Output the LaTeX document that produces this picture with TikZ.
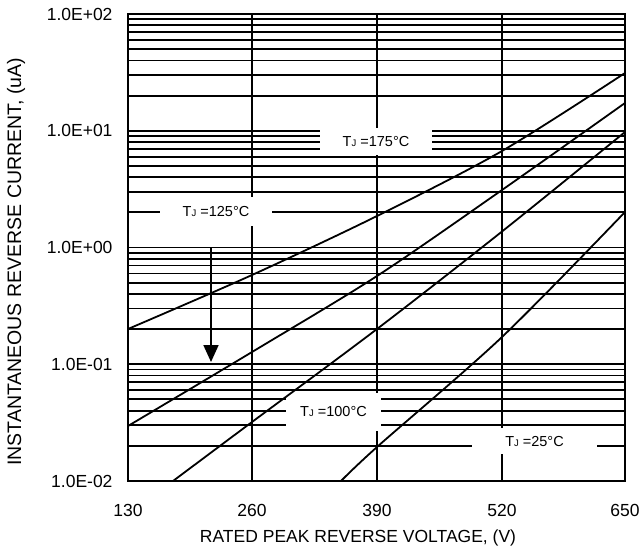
\documentclass[tikz,border=0pt]{standalone}
\usepackage{fontspec}
\setmainfont{Liberation Sans}
\usepackage{tikz}
\usetikzlibrary{arrows.meta}

\newcommand{\tjunc}{T{\fontsize{9.5}{9.5}\selectfont J}}

\tikzset{
  grid line/.style={line width=1.8pt},
  curve/.style={line width=1.8pt, line join=round},
  tj label/.style={fill=white, inner sep=0pt, font=\fontsize{14.5}{16}\selectfont},
  tick label/.style={font=\fontsize{17.5}{20}\selectfont},
}

\begin{document}
\begin{tikzpicture}[x=1pt,y=-1pt]
  \useasboundingbox (0,0) rectangle (642,552);

  % decade 1E-02 .. 1E-01
  \draw[grid line] (128,445.85) -- (625,445.85);
  \draw[grid line] (128,425.30) -- (625,425.30);
  \draw[grid line] (128,410.71) -- (625,410.71);
  \draw[grid line] (128,399.39) -- (625,399.39);
  \draw[grid line] (128,390.15) -- (625,390.15);
  \draw[grid line] (128,382.33) -- (625,382.33);
  \draw[grid line] (128,375.56) -- (625,375.56);
  \draw[grid line] (128,369.59) -- (625,369.59);
  \draw[grid line] (128,364.25) -- (625,364.25);
  % decade 1E-01 .. 1E+00
  \draw[grid line] (128,329.10) -- (625,329.10);
  \draw[grid line] (128,308.55) -- (625,308.55);
  \draw[grid line] (128,293.96) -- (625,293.96);
  \draw[grid line] (128,282.64) -- (625,282.64);
  \draw[grid line] (128,273.40) -- (625,273.40);
  \draw[grid line] (128,265.58) -- (625,265.58);
  \draw[grid line] (128,258.81) -- (625,258.81);
  \draw[grid line] (128,252.84) -- (625,252.84);
  \draw[grid line] (128,247.50) -- (625,247.50);
  % decade 1E+00 .. 1E+01
  \draw[grid line] (128,212.35) -- (625,212.35);
  \draw[grid line] (128,191.80) -- (625,191.80);
  \draw[grid line] (128,177.21) -- (625,177.21);
  \draw[grid line] (128,165.89) -- (625,165.89);
  \draw[grid line] (128,156.65) -- (625,156.65);
  \draw[grid line] (128,148.83) -- (625,148.83);
  \draw[grid line] (128,142.06) -- (625,142.06);
  \draw[grid line] (128,136.09) -- (625,136.09);
  \draw[grid line] (128,130.75) -- (625,130.75);
  % decade 1E+01 .. 1E+02
  \draw[grid line] (128,95.60) -- (625,95.60);
  \draw[grid line] (128,75.05) -- (625,75.05);
  \draw[grid line] (128,60.46) -- (625,60.46);
  \draw[grid line] (128,49.14) -- (625,49.14);
  \draw[grid line] (128,39.90) -- (625,39.90);
  \draw[grid line] (128,32.08) -- (625,32.08);
  \draw[grid line] (128,25.31) -- (625,25.31);
  \draw[grid line] (128,19.34) -- (625,19.34);

  \draw[grid line] (252,14) -- (252,481);
  \draw[grid line] (377,14) -- (377,481);
  \draw[grid line] (502,14) -- (502,481);
  \draw[grid line] (128,14) rectangle (625,481);

  % temperature labels
  \node[tj label, minimum width=112, minimum height=27] (lbl175) at (376,141.5) {\tjunc\ =175\textdegree C};
  \node[tj label, minimum width=112, minimum height=29] (lbl125) at (216,211.5) {\tjunc\ =125\textdegree C};
  \node[tj label, minimum width=95, minimum height=38] (lbl100) at (333.5,412) {\tjunc\ =100\textdegree C};
  \node[tj label, minimum width=125, minimum height=26] (lbl25) at (534.5,441) {\tjunc\ =25\textdegree C};

  % curves
  \draw[curve] plot[smooth] coordinates {(128,329) (252,275) (377,216) (502,151) (625,73)};
  \draw[curve] plot[smooth] coordinates {(128,426) (252,352) (377,276) (502,190) (625,103)};
  \draw[curve] plot[smooth] coordinates {(173,481) (252,422) (377,329) (502,231.5) (625,132)};
  \draw[curve] plot[smooth] coordinates {(341,481) (377,447) (502,337) (625,212)};

  \draw[line width=1.8pt,-{Triangle[length=17pt,width=15pt]}] (211,247.5) -- (211,362);

  % axes
  \node[tick label, anchor=east] (y2) at (116,14) {1.0E+02};
  \node[tick label, anchor=east] (y1) at (116,130.75) {1.0E+01};
  \node[tick label, anchor=east] (y0) at (116,247.5) {1.0E+00};
  \node[tick label, anchor=east] (ym1) at (116,364.25) {1.0E-01};
  \node[tick label, anchor=east] (ym2) at (116,481) {1.0E-02};

  \node[tick label] (x130) at (128,510) {130};
  \node[tick label] (x260) at (252,510) {260};
  \node[tick label] (x390) at (377,510) {390};
  \node[tick label] (x520) at (502,510) {520};
  \node[tick label] (x650) at (625,510) {650};

  \node[tick label] (xtitle) at (358,538) {RATED PEAK REVERSE VOLTAGE, (V)};
  \node[font=\fontsize{19.5}{22}\selectfont, rotate=90] (ytitle) at (16,262) {INSTANTANEOUS REVERSE CURRENT, (uA)};
\end{tikzpicture}
\end{document}
